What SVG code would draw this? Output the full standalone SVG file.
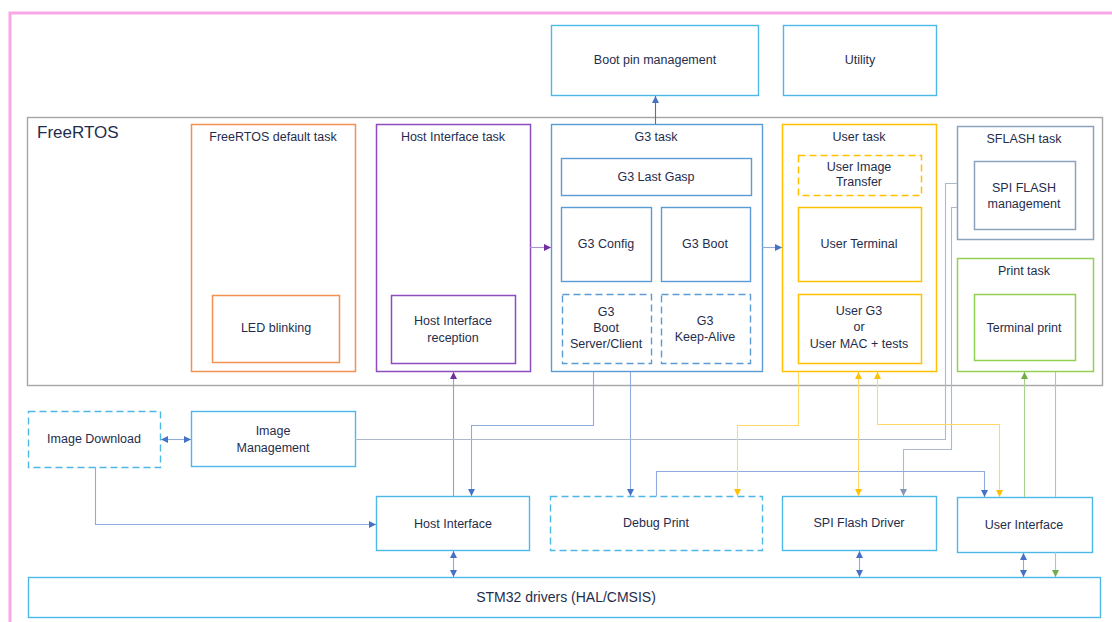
<svg xmlns="http://www.w3.org/2000/svg" width="1112" height="622" viewBox="0 0 1112 622">
<style>
text{font-family:"Liberation Sans",Arial,sans-serif;font-size:12.5px;fill:#1f2d4d;text-anchor:middle;dominant-baseline:central}
.box{fill:#fff;stroke:#4db8e8;stroke-width:1.4}
.g3{fill:none;stroke:#5b9bd5;stroke-width:1.4}
.dash{stroke-dasharray:7 4}
.or{fill:none;stroke:#f29150;stroke-width:1.5}
.pu{fill:none;stroke:#8a4cbf;stroke-width:1.5}
.ye{fill:none;stroke:#ffc000;stroke-width:1.5}
.sf{fill:none;stroke:#8fa2bd;stroke-width:1.5}
.gr{fill:none;stroke:#92d050;stroke-width:1.5}
.c{fill:none;stroke-width:1.1}
.cb{stroke:#4472c4}
.cl{stroke:#8faadc}
.cg{stroke:#adb9ca}
.cy{stroke:#ffd966}
.cgr{stroke:#a9d18e}
.cp{stroke:#b08ed6}
</style>
<defs>
<marker id="ab" markerUnits="userSpaceOnUse" markerWidth="8" markerHeight="8" refX="7" refY="4" orient="auto-start-reverse"><path d="M0,0.5 L7,4 L0,7.5 z" fill="#4472c4"/></marker>
<marker id="ap" markerUnits="userSpaceOnUse" markerWidth="8" markerHeight="8" refX="7" refY="4" orient="auto-start-reverse"><path d="M0,0.5 L7,4 L0,7.5 z" fill="#7030a0"/></marker>
<marker id="ay" markerUnits="userSpaceOnUse" markerWidth="8" markerHeight="8" refX="7" refY="4" orient="auto-start-reverse"><path d="M0,0.5 L7,4 L0,7.5 z" fill="#ffc000"/></marker>
<marker id="ag" markerUnits="userSpaceOnUse" markerWidth="8" markerHeight="8" refX="7" refY="4" orient="auto-start-reverse"><path d="M0,0.5 L7,4 L0,7.5 z" fill="#8497b0"/></marker>
<marker id="agr" markerUnits="userSpaceOnUse" markerWidth="8" markerHeight="8" refX="7" refY="4" orient="auto-start-reverse"><path d="M0,0.5 L7,4 L0,7.5 z" fill="#70ad47"/></marker>
</defs>
<rect width="1112" height="622" fill="#fff"/>
<path d="M1114,13 H10 V624" fill="none" stroke="#f7a6e6" stroke-width="3"/>

<g id="freertos">
<rect x="27.5" y="117.5" width="1075" height="268" fill="none" stroke="#a6a6a6" stroke-width="1.4"/>
<text x="37" y="132" style="text-anchor:start;font-size:17px">FreeRTOS</text>
</g>

<g id="boot-pin"><rect class="box" x="551.5" y="25.5" width="207" height="70"/><text x="655" y="60">Boot pin management</text></g>
<g id="utility"><rect class="box" x="783.5" y="25.5" width="153" height="70"/><text x="860" y="60">Utility</text></g>

<g id="default-task"><rect class="or" x="191.5" y="124.5" width="164" height="247"/><text x="273" y="137">FreeRTOS default task</text></g>
<g id="led"><rect class="or" x="212.5" y="295.5" width="127" height="67"/><text x="276" y="328">LED blinking</text></g>

<g id="hi-task"><rect class="pu" x="376.5" y="124.5" width="154" height="247"/><text x="453" y="137">Host Interface task</text></g>
<g id="hi-reception"><rect class="pu" x="391.5" y="295.5" width="124" height="68"/><text x="453" y="321">Host Interface</text><text x="453" y="338">reception</text></g>

<g id="g3-task"><rect class="g3" x="551.5" y="124.5" width="211" height="247"/><text x="656" y="137">G3 task</text></g>
<g id="g3-lastgasp"><rect class="g3" x="561.5" y="158.5" width="190" height="37"/><text x="656" y="177">G3 Last Gasp</text></g>
<g id="g3-config"><rect class="g3" x="561.5" y="207.5" width="90" height="74"/><text x="606" y="244">G3 Config</text></g>
<g id="g3-boot"><rect class="g3" x="661.5" y="207.5" width="89" height="74"/><text x="705" y="244">G3 Boot</text></g>
<g id="g3-bootsc"><rect class="g3 dash" x="562.5" y="294.5" width="89" height="69"/><text x="606" y="312">G3</text><text x="606" y="328">Boot</text><text x="606" y="344">Server/Client</text></g>
<g id="g3-keepalive"><rect class="g3 dash" x="661.5" y="294.5" width="89" height="69"/><text x="705" y="321">G3</text><text x="705" y="337">Keep-Alive</text></g>

<g id="user-task"><rect class="ye" x="782.5" y="124.5" width="154" height="247"/><text x="859" y="137">User task</text></g>
<g id="user-image-transfer"><rect class="ye dash" x="798.5" y="155.5" width="123" height="40"/><text x="859" y="167">User Image</text><text x="859" y="182">Transfer</text></g>
<g id="user-terminal"><rect class="ye" x="798.5" y="207.5" width="123" height="74"/><text x="859" y="244">User Terminal</text></g>
<g id="user-g3"><rect class="ye" x="798.5" y="294.5" width="123" height="69"/><text x="859" y="311">User G3</text><text x="859" y="327">or</text><text x="859" y="344">User MAC + tests</text></g>

<g id="sflash-task"><rect class="sf" x="957.5" y="126.5" width="136" height="113"/><text x="1024" y="139">SFLASH task</text></g>
<g id="spi-flash-mgmt"><rect class="sf" x="974.5" y="161.5" width="101" height="68"/><text x="1024" y="188">SPI FLASH</text><text x="1024" y="204">management</text></g>

<g id="print-task"><rect class="gr" x="957.5" y="258.5" width="136" height="113"/><text x="1024" y="271">Print task</text></g>
<g id="terminal-print"><rect class="gr" x="974.5" y="294.5" width="101" height="66"/><text x="1024" y="328">Terminal print</text></g>

<g id="image-download"><rect class="box dash" x="28.5" y="411.5" width="132" height="56"/><text x="94" y="439">Image Download</text></g>
<g id="image-management"><rect class="box" x="191.5" y="411.5" width="164" height="55"/><text x="273" y="431">Image</text><text x="273" y="448">Management</text></g>
<g id="host-interface"><rect class="box" x="376.5" y="496.5" width="153" height="54"/><text x="453" y="524">Host Interface</text></g>
<g id="debug-print"><rect class="box dash" x="550.5" y="496.5" width="212" height="54"/><text x="656" y="523">Debug Print</text></g>
<g id="spi-flash-driver"><rect class="box" x="782.5" y="496.5" width="154" height="54"/><text x="859" y="523">SPI Flash Driver</text></g>
<g id="user-interface"><rect class="box" x="957.5" y="497.5" width="135" height="55"/><text x="1024" y="525">User Interface</text></g>
<g id="stm32"><rect class="box" x="28.5" y="577.5" width="1072" height="40"/><text x="566" y="597" style="font-size:14px">STM32 drivers (HAL/CMSIS)</text></g>

<g id="connectors">
<path class="c cb" d="M655.5,124 V96" marker-end="url(#ab)"/>
<path class="c cp" d="M530,247.5 H551" marker-end="url(#ap)"/>
<path class="c cl" d="M762,247.5 H782" marker-end="url(#ab)"/>
<path class="c cl" d="M161,439.5 H191" marker-start="url(#ab)" marker-end="url(#ab)"/>
<path class="c cl" d="M95.5,467 V524.5 H376" marker-end="url(#ab)"/>
<path class="c cp" d="M453.5,496 V372" marker-end="url(#ap)"/>
<path class="c cl" d="M593.5,372 V425.5 H471.5 V496" marker-end="url(#ab)"/>
<path class="c cl" d="M630.5,372 V496" marker-end="url(#ab)"/>
<path class="c cg" d="M355,439.5 H945.5 V183.5 H957"/>
<path class="c cg" d="M957,207.5 H951.5 V449.5 H903.5 V496" marker-end="url(#ag)"/>
<path class="c cl" d="M656.5,496 V471.5 H984.5 V497" marker-end="url(#ab)"/>
<path class="c cy" d="M798.5,372 V425.5 H737.5 V496" marker-end="url(#ay)"/>
<path class="c cy" d="M858.5,372 V496" marker-start="url(#ay)" marker-end="url(#ay)"/>
<path class="c cy" d="M877.5,372 V424.5 H999.5 V497" marker-start="url(#ay)" marker-end="url(#ay)"/>
<path class="c cgr" d="M1024.5,497 V372" marker-end="url(#agr)"/>
<path class="c cgr" d="M1055.5,372 V497"/>
<path class="c cgr" d="M1055.5,552 V577" marker-end="url(#agr)"/>
<path class="c cl" d="M453.5,551 V577" marker-start="url(#ab)" marker-end="url(#ab)"/>
<path class="c cl" d="M859.5,551 V577" marker-start="url(#ab)" marker-end="url(#ab)"/>
<path class="c cl" d="M1023.5,553 V577" marker-start="url(#ab)" marker-end="url(#ab)"/>
</g>
</svg>
